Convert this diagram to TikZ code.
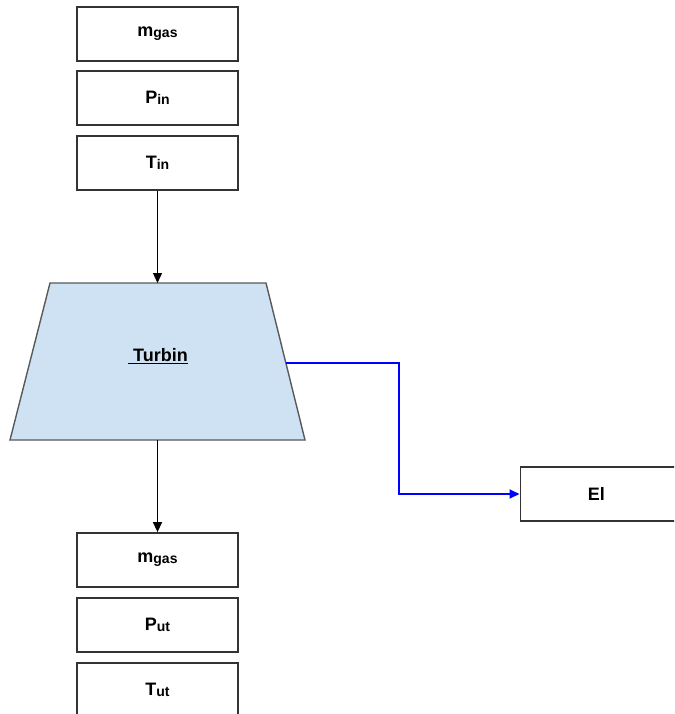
\documentclass[tikz,border=0pt]{standalone}
\usepackage{fontspec}
\setmainfont{Liberation Sans}
\usetikzlibrary{arrows.meta}
\definecolor{boxline}{HTML}{333333}
\definecolor{turbfill}{HTML}{CFE2F3}
\definecolor{turbline}{HTML}{595959}
\newcommand{\qty}[2]{#1{\fontsize{14}{16}\selectfont\raisebox{-1pt}{#2}}}
\begin{document}
\begin{tikzpicture}[x=1pt,y=-1pt,
  varbox/.style={draw=boxline,line width=1.8pt,minimum width=161pt,minimum height=54pt,
    inner sep=0pt,font=\fontsize{18}{20}\selectfont\bfseries},
  flow/.style={line width=1.4pt,-{Triangle[length=10pt,width=9pt]}},
  power/.style={draw={rgb,255:red,0;green,0;blue,255},line width=1.8pt,-{Triangle[length=10pt,width=9pt]}}]
\useasboundingbox (0,0) rectangle (674,714);
\clip (0,0) rectangle (674,714);
% inlet state
\node[varbox] (min) at (157.5,34) {\qty{m}{gas}};
\node[varbox] (pin) at (157.5,98) {\qty{P}{in}};
\node[varbox] (tin) at (157.5,163) {\qty{T}{in}};
% turbine body
\draw[fill=turbfill,draw=turbline,line width=1.4pt]
  (50,283) -- (266,283) -- (305,440) -- (10,440) -- cycle;
\coordinate (turbtop) at (157.5,283);
\coordinate (turbbot) at (157.5,440);
\coordinate (turbout) at (285.5,363);
\node[font=\fontsize{18}{20}\selectfont\bfseries] (turb) at (158,356) {\underline{\ Turbin}};
% outlet state
\node[varbox] (mout) at (157.5,560) {\qty{m}{gas}};
\node[varbox] (pout) at (157.5,625) {\qty{P}{ut}};
\node[varbox] (tout) at (157.5,690) {\qty{T}{ut}};
% generated power
\node[varbox,minimum width=170pt,anchor=west] (el) at (519.5,494) {\hspace*{-18pt}El};
% connectors
\draw[flow] (tin.south) -- (turbtop);
\draw[flow] (turbbot) -- (mout.north);
\draw[power] (turbout) -- (399,363) |- (el.west);
\end{tikzpicture}
\end{document}
